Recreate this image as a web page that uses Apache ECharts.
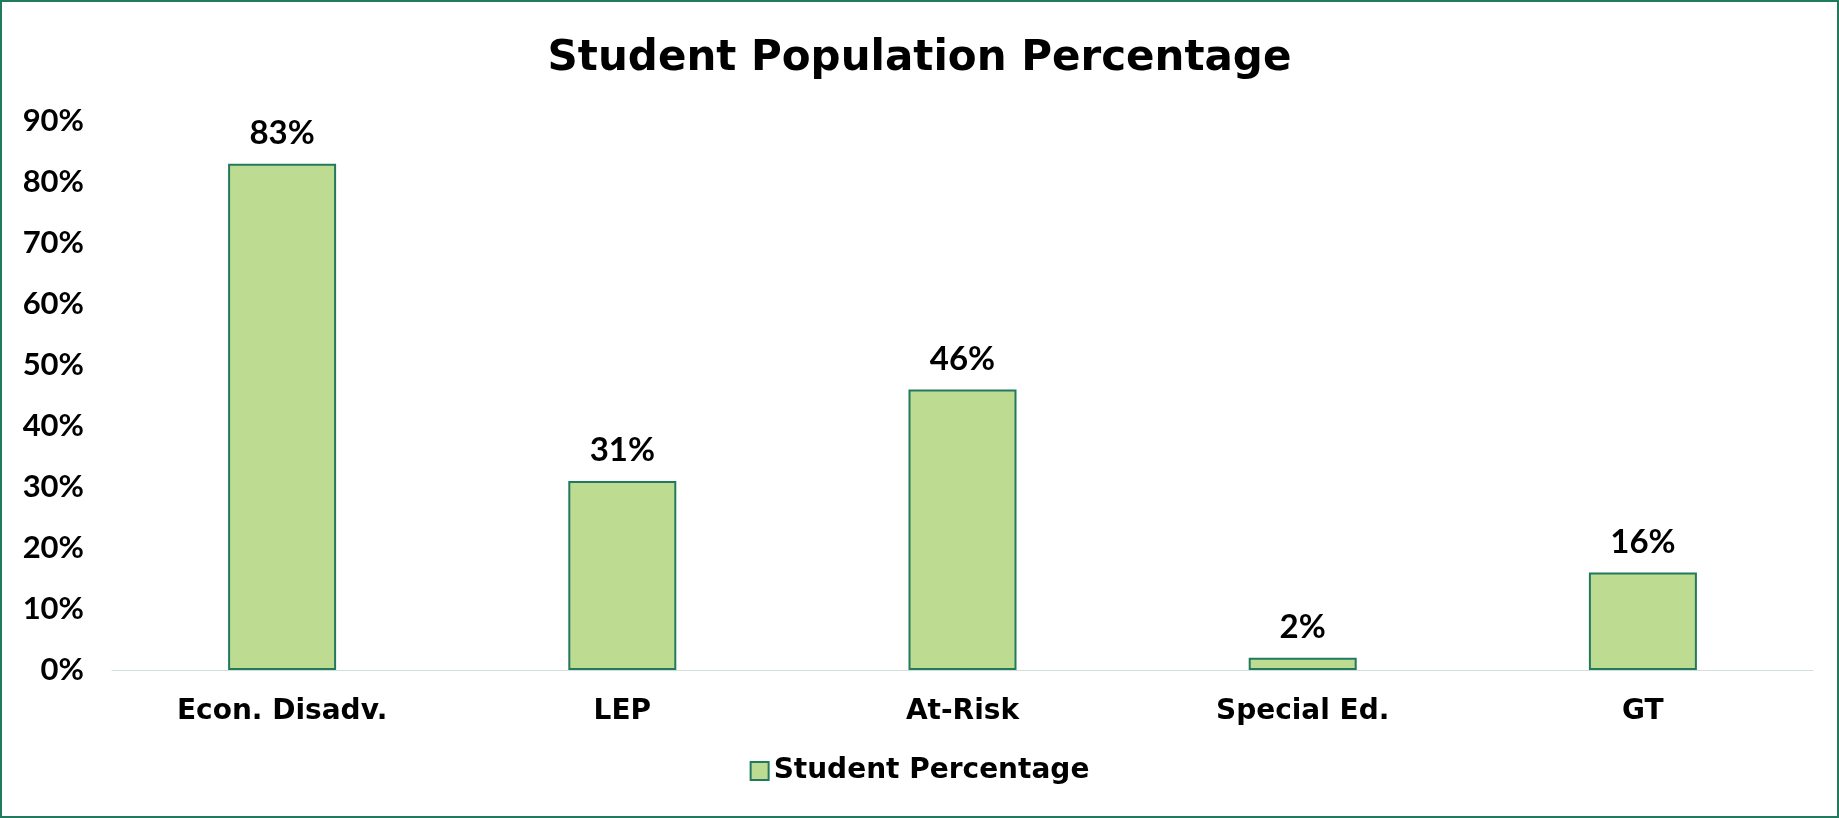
<!DOCTYPE html>
<html>
<head>
<meta charset="utf-8">
<script src="https://cdn.jsdelivr.net/npm/echarts@6/dist/echarts.min.js"></script>
<style>
  html, body { margin: 0; padding: 0; background: #fff; }
  #wrap { position: absolute; left: 0; top: 0; width: 1839px; height: 818px; box-sizing: border-box; border: 2px solid #217a5e; }
  #chart { width: 100%; height: 100%; }
</style>
</head>
<body>
<div id="wrap"><div id="chart"></div></div>
<script>
const categories = ['Econ. Disadv.', 'LEP', 'At-Risk', 'Special Ed.', 'GT'];
const studentPercentage = [83, 31, 46, 2, 16];
const seriesName = 'Student Percentage';
const titleText = 'Student Population Percentage';

const FONT = 'Lato';
const WIDE = 'DejaVu Sans';
const chart = echarts.init(document.getElementById('chart'));
chart.setOption({
  animation: false,
  title: {
    text: titleText, left: 'center', top: 31,
    textStyle: { fontFamily: WIDE, fontWeight: 'bold', fontSize: 42, color: '#000' }
  },
  legend: {
    data: [seriesName], bottom: 26, left: 'center',
    icon: 'rect',
    itemWidth: 18, itemHeight: 18, itemGap: 6,
    textStyle: { fontFamily: WIDE, fontWeight: 'bold', fontSize: 28, color: '#000' }
  },
  grid: { left: 110, right: 24, top: 119, bottom: 146 },
  xAxis: {
    type: 'category', data: categories,
    axisLine: { show: true, lineStyle: { color: '#d0e0d8', width: 1 } },
    axisTick: { show: false },
    axisLabel: { fontFamily: WIDE, fontWeight: 'bold', fontSize: 28, color: '#000', margin: 28 }
  },
  yAxis: {
    type: 'value', min: 0, max: 90, interval: 10,
    splitLine: { show: false },
    axisLine: { show: false }, axisTick: { show: false },
    axisLabel: { formatter: '{value}%', fontFamily: FONT, fontWeight: 'bold', fontSize: 31, color: '#000', margin: 28 }
  },
  series: [{
    name: seriesName, type: 'bar', data: studentPercentage, barWidth: 108,
    itemStyle: { color: '#bddc92', borderColor: '#217a5e', borderWidth: 2 },
    label: { show: true, position: 'top', distance: 14, formatter: '{c}%',
      fontFamily: FONT, fontWeight: 'bold', fontSize: 33, color: '#000' }
  }]
});
</script>
</body>
</html>
